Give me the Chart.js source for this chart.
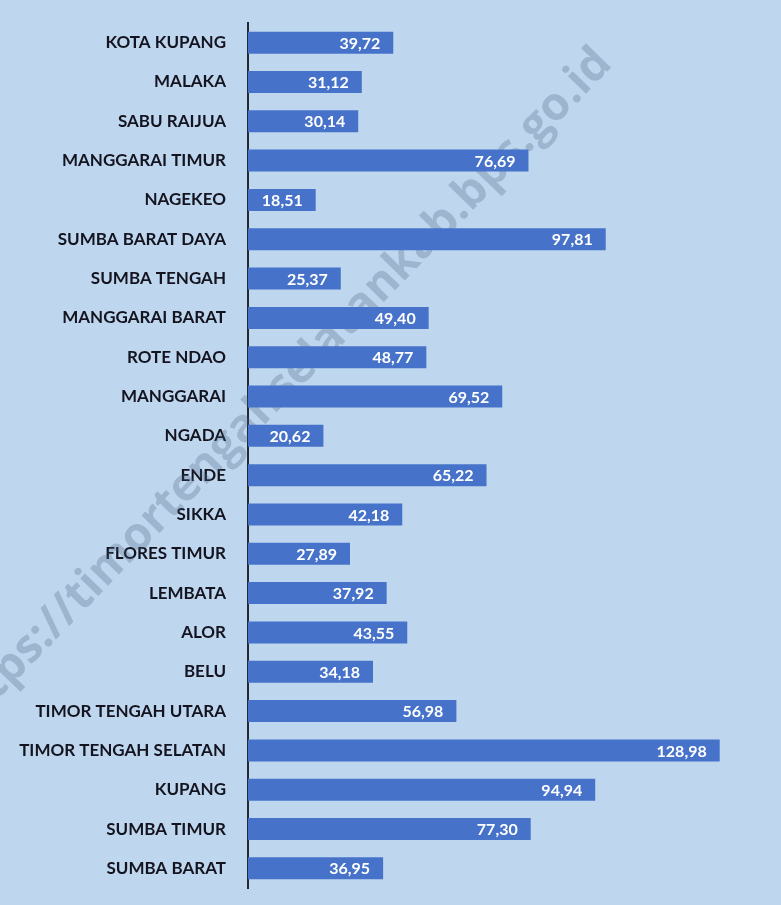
<!DOCTYPE html>
<html>
<head>
<meta charset="utf-8">
<script src="https://cdn.jsdelivr.net/npm/chart.js@4"></script>
<style>
  html, body { margin: 0; padding: 0; background: #bfd7ee; }
  #wrap { width: 781px; height: 905px; position: relative; }
</style>
</head>
<body>
<div id="wrap"><canvas id="barChart" width="781" height="905"></canvas></div>
<script>
const regions = [
  "KOTA KUPANG", "MALAKA", "SABU RAIJUA", "MANGGARAI TIMUR", "NAGEKEO",
  "SUMBA BARAT DAYA", "SUMBA TENGAH", "MANGGARAI BARAT", "ROTE NDAO", "MANGGARAI",
  "NGADA", "ENDE", "SIKKA", "FLORES TIMUR", "LEMBATA", "ALOR", "BELU",
  "TIMOR TENGAH UTARA", "TIMOR TENGAH SELATAN", "KUPANG", "SUMBA TIMUR", "SUMBA BARAT"
];
const values = [
  39.72, 31.12, 30.14, 76.69, 18.51,
  97.81, 25.37, 49.40, 48.77, 69.52,
  20.62, 65.22, 42.18, 27.89, 37.92, 43.55, 34.18,
  56.98, 128.98, 94.94, 77.30, 36.95
];
const watermark = "https://timortengahselatankab.bps.go.id";

const ctx = document.getElementById("barChart");

// Value labels inside the end of each bar
const valueLabels = {
  id: "valueLabels",
  afterDatasetsDraw(chart) {
    const c = chart.ctx;
    const meta = chart.getDatasetMeta(0);
    c.save();
    c.fillStyle = "#ffffff";
    c.font = "bold 16px Lato";
    c.textAlign = "right";
    c.textBaseline = "middle";
    meta.data.forEach((bar, i) => {
      c.fillText(values[i].toFixed(2).replace(".", ","), bar.x - 13, bar.y + 1);
    });
    c.restore();
  }
};

// Diagonal watermark, under the bars
const watermarkText = {
  id: "watermarkText",
  beforeDatasetsDraw(chart) {
    const c = chart.ctx;
    c.save();
    c.translate(278, 392);
    c.rotate(-0.80);
    c.fillStyle = "rgba(70, 95, 125, 0.28)";
    c.font = "bold 46px 'Open Sans'";
    c.textAlign = "center";
    c.textBaseline = "middle";
    c.fillText(watermark, 0, 0);
    c.restore();
  }
};

new Chart(ctx, {
  type: "bar",
  data: {
    labels: regions,
    datasets: [{
      data: values,
      backgroundColor: "#4673c9",
      barPercentage: 0.56,
      categoryPercentage: 1
    }]
  },
  options: {
    indexAxis: "y",
    responsive: false,
    animation: false,
    layout: { padding: { left: 0, top: 23, right: 21, bottom: 17 } },
    plugins: {
      legend: { display: false },
      tooltip: { enabled: false }
    },
    scales: {
      x: { display: false, min: 0, max: 140 },
      y: {
        afterFit: s => {
          s.width = 248;
          s.paddingTop = 0;
          s.paddingBottom = 0;
        },
        grid: { display: false },
        border: { display: true, color: "#1f2a36", width: 2 },
        ticks: {
          color: "#141420",
          padding: 14,
          font: { family: "Lato", size: 17, weight: "bold" }
        }
      }
    }
  },
  plugins: [valueLabels, watermarkText]
});
</script>
</body>
</html>
